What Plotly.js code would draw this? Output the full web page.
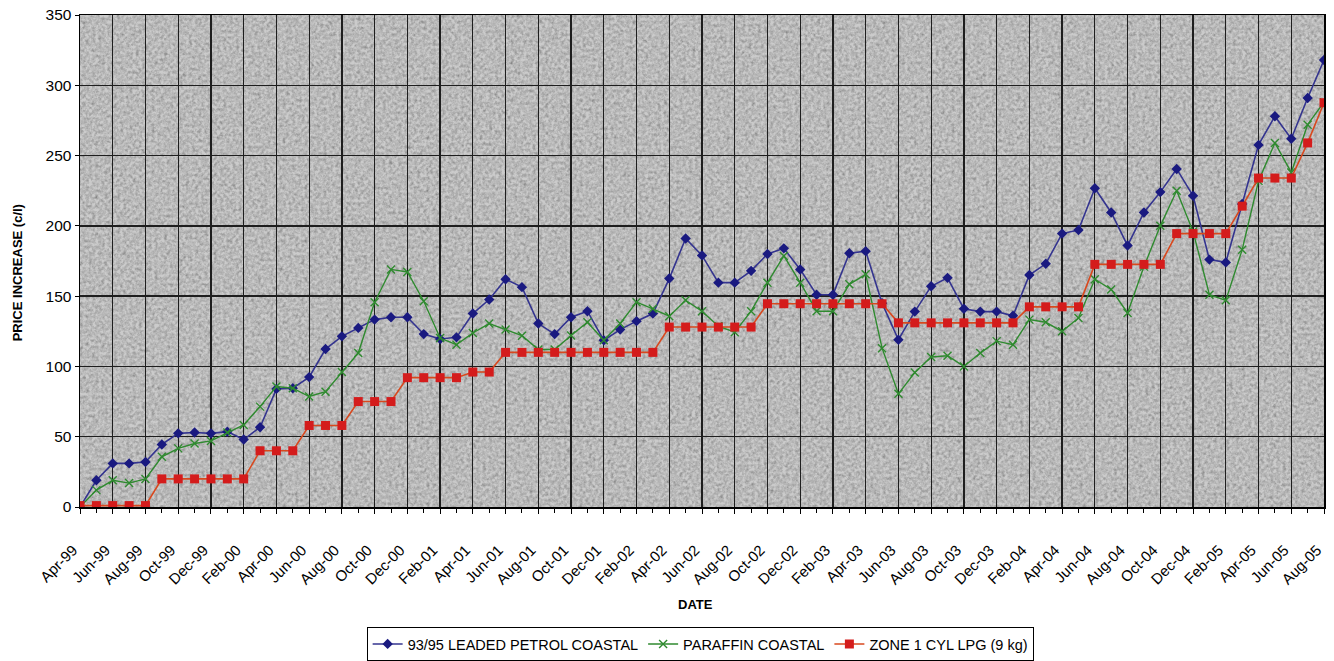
<!DOCTYPE html>
<html>
<head>
<meta charset="utf-8">
<script src="https://cdn.plot.ly/plotly-3.0.1.min.js"></script>
<style>
  html, body { margin: 0; padding: 0; background: #ffffff; }
  #chart { width: 1334px; height: 661px; }
</style>
</head>
<body>
<div id="chart"></div>
<script>
// Monthly fuel price increases since April 1999 (cents per litre)
const months = [
  'Apr-99','May-99','Jun-99','Jul-99','Aug-99','Sep-99','Oct-99','Nov-99','Dec-99',
  'Jan-00','Feb-00','Mar-00','Apr-00','May-00','Jun-00','Jul-00','Aug-00','Sep-00','Oct-00','Nov-00','Dec-00',
  'Jan-01','Feb-01','Mar-01','Apr-01','May-01','Jun-01','Jul-01','Aug-01','Sep-01','Oct-01','Nov-01','Dec-01',
  'Jan-02','Feb-02','Mar-02','Apr-02','May-02','Jun-02','Jul-02','Aug-02','Sep-02','Oct-02','Nov-02','Dec-02',
  'Jan-03','Feb-03','Mar-03','Apr-03','May-03','Jun-03','Jul-03','Aug-03','Sep-03','Oct-03','Nov-03','Dec-03',
  'Jan-04','Feb-04','Mar-04','Apr-04','May-04','Jun-04','Jul-04','Aug-04','Sep-04','Oct-04','Nov-04','Dec-04',
  'Jan-05','Feb-05','Mar-05','Apr-05','May-05','Jun-05','Jul-05','Aug-05'
];

const petrolCoastal = [
  0, 19, 31, 31, 32, 44.5, 52.4, 53, 52.4, 53.6,
  48, 56.7, 84, 84.5, 92.4, 112.4, 121.4, 127.4, 133.3, 135,
  135, 123, 119.5, 120.7, 137.6, 147.6, 162, 156.4, 130.5, 123,
  135, 139.3, 118.6, 126.2, 132.2, 137.6, 162.5, 191, 179, 159.6,
  159.6, 168, 180, 184, 169, 151, 151, 180.5, 182, 145,
  119, 139, 157, 163, 141, 139, 139, 136, 165, 173,
  194.5, 197, 226.7, 209.5, 186, 209.5, 224, 240.5, 221.4, 176,
  174, 215.5, 257.6, 278, 262, 291, 318
];

const paraffinCoastal = [
  0, 12, 19, 17, 20, 35.7, 41.7, 45.2, 47, 53,
  58.4, 71.4, 85.7, 84.5, 78.6, 82, 96, 109.5, 145.7, 169,
  167.2, 146.4, 120.2, 115.5, 123.8, 130.5, 126.2, 121.9, 112, 112,
  122, 131.4, 118.6, 130.5, 145.7, 141, 135.7, 147, 139.3, 128.6,
  124.3, 139.3, 159.6, 178.6, 159.6, 139.3, 139.3, 158.4, 165.5, 113,
  80.5, 95.7, 106.7, 107.6, 100, 109.5, 118, 115.5, 133.3, 131.4,
  125, 134.5, 162, 154.8, 138, 171, 200, 225, 196, 151,
  147, 183, 232, 259, 238, 272, 288
];

const lpgZone1 = [
  1, 1, 1, 1, 1, 20, 20, 20, 20, 20,
  20, 40, 40, 40, 58, 58, 58, 75, 75, 75,
  92, 92, 92, 92, 96, 96, 110, 110, 110, 110,
  110, 110, 110, 110, 110, 110, 128, 128, 128, 128,
  128, 128, 144.6, 144.6, 144.6, 144.6, 144.6, 144.6, 144.6, 144.6,
  131, 131, 131, 131, 131, 131, 131, 131, 142.4, 142.4,
  142.4, 142.4, 172.6, 172.6, 172.6, 172.6, 172.6, 194.5, 194.5, 194.5,
  194.5, 214, 234, 234, 234, 259, 287.6
];

const seriesNames = ['93/95 LEADED PETROL COASTAL', 'PARAFFIN COASTAL', 'ZONE 1 CYL LPG (9 kg)'];

// Months sit on evenly spaced positions; every second month is labelled
const xPos = months.map((m, i) => i);
const labelPos = xPos.filter(i => i % 2 === 0);
const labelText = labelPos.map(i => months[i]);

const baseFont = 'Liberation Sans, Arial, sans-serif';

// Mottled grey fill for the plotting area
const paperTexture = 'data:image/svg+xml;charset=utf-8,' + encodeURIComponent(
  '<svg xmlns="http://www.w3.org/2000/svg" width="1244" height="492" viewBox="0 0 1244 492">' +
  '<defs><filter id="n" x="0" y="0" width="100%" height="100%" color-interpolation-filters="sRGB">' +
  '<feTurbulence type="fractalNoise" baseFrequency="0.32" numOctaves="3" seed="7" result="t"/>' +
  '<feColorMatrix in="t" type="matrix" values="0.33 0.33 0.33 0 0 0.33 0.33 0.33 0 0 0.33 0.33 0.33 0 0 0 0 0 0 1" result="g"/>' +
  '<feComponentTransfer in="g"><feFuncR type="linear" slope="2.4" intercept="-0.45"/>' +
  '<feFuncG type="linear" slope="2.4" intercept="-0.45"/><feFuncB type="linear" slope="2.4" intercept="-0.45"/></feComponentTransfer>' +
  '</filter></defs>' +
  '<rect width="1244" height="492" fill="#b8b8b8"/>' +
  '<rect width="1244" height="492" fill="#808080" filter="url(#n)" opacity="0.28"/>' +
  '</svg>'
);

const traces = [
  {
    x: xPos, y: petrolCoastal, name: seriesNames[0], text: months,
    type: 'scatter', mode: 'lines+markers',
    line: { color: '#34348f', width: 1.6 },
    marker: { symbol: 'diamond', size: 8, color: '#1a1a80' }
  },
  {
    x: xPos, y: paraffinCoastal, name: seriesNames[1], text: months,
    type: 'scatter', mode: 'lines+markers',
    line: { color: '#2f8a2f', width: 1.4 },
    marker: { symbol: 'x-thin', size: 8, line: { color: '#2f8a2f', width: 1.4 } }
  },
  {
    x: xPos, y: lpgZone1, name: seriesNames[2], text: months,
    type: 'scatter', mode: 'lines+markers',
    line: { color: '#d8481e', width: 1.6 },
    marker: { symbol: 'square', size: 9, color: '#d41c1c' }
  }
];

const layout = {
  width: 1334, height: 661,
  margin: { l: 80, r: 10, t: 15, b: 154 },
  paper_bgcolor: '#ffffff',
  plot_bgcolor: '#b8b8b8',
  font: { family: baseFont, color: '#000000' },
  showlegend: true,
  images: [{
    source: paperTexture, xref: 'paper', yref: 'paper',
    x: 0, y: 1, sizex: 1, sizey: 1, sizing: 'stretch',
    xanchor: 'left', yanchor: 'top', layer: 'below'
  }],
  xaxis: {
    range: [0, 76], automargin: false,
    tickmode: 'array', tickvals: labelPos, ticktext: labelText,
    tickangle: -45,
    tickfont: { size: 15, family: baseFont },
    ticklabelstandoff: 22, ticklabelshift: -7,
    ticks: 'outside', ticklen: 5, tickcolor: '#000', tickwidth: 1,
    minor: { tickmode: 'linear', tick0: 0, dtick: 1, ticks: 'outside', ticklen: 4, tickcolor: '#000', showgrid: false },
    showgrid: true, gridcolor: '#1e1e1e', gridwidth: 1.3,
    showline: true, linecolor: '#000', linewidth: 1.5, mirror: true,
    zeroline: false
  },
  yaxis: {
    range: [0, 350], dtick: 50, tick0: 0, automargin: false,
    tickfont: { size: 15.5, family: baseFont },
    ticks: 'outside', ticklen: 4, tickcolor: '#000', tickwidth: 1,
    showgrid: true, gridcolor: '#1e1e1e', gridwidth: 1.3,
    showline: true, linecolor: '#000', linewidth: 1.5, mirror: true,
    zeroline: false
  },
  annotations: [
    {
      text: '<b>PRICE INCREASE (c/l)</b>', textangle: -90,
      xref: 'paper', yref: 'paper', x: -63 / 1244, y: 0.475,
      xanchor: 'center', yanchor: 'middle', showarrow: false,
      font: { size: 13, family: baseFont }
    },
    {
      text: '<b>DATE</b>',
      xref: 'paper', yref: 'paper', x: 0.495, y: -97 / 492,
      xanchor: 'center', yanchor: 'middle', showarrow: false,
      font: { size: 13, family: baseFont }
    }
  ],
  legend: {
    orientation: 'h',
    xref: 'paper', x: 0.4985, xanchor: 'center',
    yref: 'container', y: 34 / 661, yanchor: 'top',
    bgcolor: '#ffffff', bordercolor: '#000', borderwidth: 1,
    font: { size: 14.5, family: baseFont },
    itemwidth: 30, tracegroupgap: 0
  }
};

Plotly.newPlot('chart', traces, layout, { displayModeBar: false, staticPlot: true });
</script>
</body>
</html>
